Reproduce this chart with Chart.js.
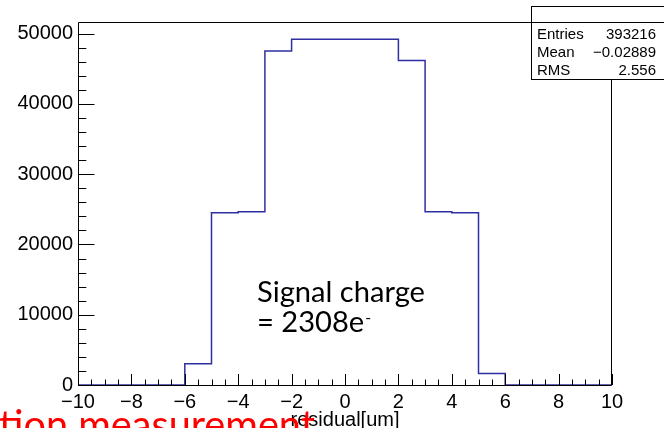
<!DOCTYPE html>
<html>
<head>
<meta charset="utf-8">
<script src="https://cdn.jsdelivr.net/npm/chart.js@4/dist/chart.umd.min.js"></script>
<style>
html,body{margin:0;padding:0;background:#ffffff;overflow:hidden;}
#wrap{position:relative;width:664px;height:428px;}
</style>
</head>
<body>
<div id="wrap"><canvas id="c" width="664" height="428"></canvas></div>
<script>
// ---- data ----
const binLowEdges = [-10,-9,-8,-7,-6,-5,-4,-3,-2,-1,0,1,2,3,4,5,6,7,8,9];
const binUpperEnd = 10;
const binCounts = [0,0,0,0,3030,24500,24650,47550,49200,49200,49200,49200,46170,24650,24500,1650,0,0,0,0];
const xTickValues = [-10,-8,-6,-4,-2,0,2,4,6,8,10];
const yTickValues = [0,10000,20000,30000,40000,50000];
const yAxisMax = 51660;
const xAxisTitle = 'residual[um]';
const statsLabels = ['Entries','Mean','RMS'];
const statsValues = ['393216','\u22120.02889','2.556'];
const noteLines = ['Signal charge','= 2308e'];
const noteSuperscript = '-';
const slideText = 'tion measurement';

// ---- build ----
const histPoints = binLowEdges.map((e,i)=>({x:e, y:binCounts[i]}));
histPoints.push({x:binUpperEnd, y:binCounts[binCounts.length-1]});

const AXIS_FONT = 'Liberation Sans, Arial, sans-serif';
const fmt = v => (v < 0 ? '\u2212' + Math.abs(v) : String(v));

const decor = {
  id:'decor',
  afterDatasetsDraw(chart){
    const {ctx, chartArea:a, scales:{x, y}} = chart;
    ctx.save();
    ctx.strokeStyle = '#000';
    ctx.lineWidth = 1;
    ctx.beginPath();
    // x ticks (major every 2, minor every 0.5)
    for (let k = 0; k <= 40; k++) {
      const v = -10 + k*0.5;
      const px = Math.round(x.getPixelForValue(v)) + 0.5;
      const len = (k % 4 === 0) ? 11 : 5.5;
      ctx.moveTo(px, a.bottom);
      ctx.lineTo(px, a.bottom - len);
    }
    // y ticks (major every 10000, minor every 2000)
    for (let k = 0; k * 2000 <= yAxisMax; k++) {
      const v = k*2000;
      const py = Math.round(y.getPixelForValue(v)) + 0.5;
      const len = (k % 5 === 0) ? 16.5 : 8.3;
      ctx.moveTo(a.left, py);
      ctx.lineTo(a.left + len, py);
    }
    ctx.stroke();
    // frame
    ctx.beginPath();
    ctx.moveTo(a.left + 0.5, a.top + 0.5);
    ctx.lineTo(a.right - 0.5, a.top + 0.5);
    ctx.lineTo(a.right - 0.5, a.bottom + 0.5);
    ctx.lineTo(a.left + 0.5, a.bottom + 0.5);
    ctx.closePath();
    ctx.stroke();
    ctx.restore();
  },
  afterDraw(chart){
    const {ctx} = chart;
    ctx.save();
    // stats box
    ctx.fillStyle = '#fff';
    ctx.fillRect(531.5, 6.5, 140, 73);
    ctx.strokeStyle = '#000';
    ctx.lineWidth = 1;
    ctx.strokeRect(531.5, 6.5, 140, 73);
    ctx.beginPath();
    ctx.moveTo(531.5, 22.5); ctx.lineTo(672, 22.5);
    ctx.stroke();
    ctx.fillStyle = '#000';
    ctx.font = '15px ' + AXIS_FONT;
    ctx.textBaseline = 'alphabetic';
    const rowBase = [38.5, 57, 75];
    statsLabels.forEach((t,i)=>{ ctx.textAlign='left'; ctx.fillText(t, 537, rowBase[i]); });
    statsValues.forEach((t,i)=>{ ctx.textAlign='right'; ctx.fillText(t, 656, rowBase[i]); });

    // annotation text
    ctx.textAlign = 'left';
    ctx.font = '28px Lato';
    const w0 = ctx.measureText(noteLines[0]).width;
    const fs = 28 * 168 / w0;
    ctx.font = fs.toFixed(2) + 'px Lato';
    ctx.fillText(noteLines[0], 257, 302);
    ctx.fillText(noteLines[1], 257, 332);
    const w1 = ctx.measureText(noteLines[1]).width;
    ctx.font = (fs*0.55).toFixed(2) + 'px Lato';
    ctx.fillText(noteSuperscript, 257 + w1 + 1, 323);

    // red slide text (cut at bottom)
    ctx.fillStyle = '#ff0000';
    ctx.font = '40px Lato';
    const w2 = ctx.measureText(slideText).width;
    const fs2 = 40 * 316 / w2;
    ctx.font = fs2.toFixed(2) + 'px Lato';
    ctx.fillText(slideText, -1, 419 + 0.51*fs2);
    ctx.restore();
  }
};

new Chart(document.getElementById('c'), {
  type:'line',
  data:{
    datasets:[{
      data: histPoints,
      stepped: 'before',
      borderColor:'#2f2fa3',
      borderWidth:1.5,
      pointRadius:0,
      fill:false,
      tension:0
    }]
  },
  options:{
    responsive:false,
    animation:false,
    devicePixelRatio:1,
    layout:{padding:{top:22,right:52,left:0,bottom:0}},
    plugins:{legend:{display:false},tooltip:{enabled:false}},
    scales:{
      x:{
        type:'linear', min:-10, max:10,
        grid:{display:false, drawTicks:false},
        border:{display:false},
        afterBuildTicks:s=>{ s.ticks = xTickValues.map(v=>({value:v})); },
        afterFit:s=>{ s.height = 43; },
        ticks:{autoSkip:false, maxRotation:0, minRotation:0, padding:5, color:'#000',
          font:{family:AXIS_FONT, size:20}, callback:v=>fmt(v)},
        title:{display:true, text:xAxisTitle, color:'#000',
          font:{family:AXIS_FONT, size:20, lineHeight:1.2}, padding:{top:0,bottom:-4}}
      },
      y:{
        min:0, max:yAxisMax,
        grid:{display:false, drawTicks:false},
        border:{display:false},
        afterBuildTicks:s=>{ s.ticks = yTickValues.map(v=>({value:v})); },
        afterFit:s=>{ s.width = 78; },
        ticks:{padding:5, color:'#000', font:{family:AXIS_FONT, size:20}, callback:v=>fmt(v)}
      }
    }
  },
  plugins:[decor]
});
</script>
</body>
</html>
